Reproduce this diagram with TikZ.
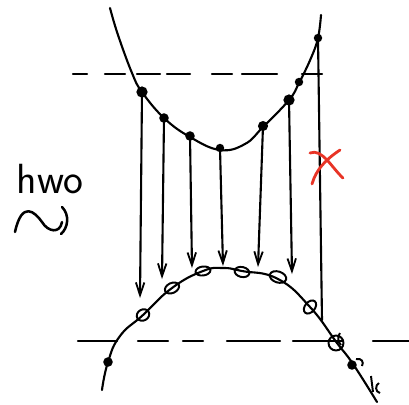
\documentclass[tikz,border=0pt]{standalone}
\usepackage{tikz}
\usetikzlibrary{arrows.meta}

\definecolor{crossred}{RGB}{232,52,38}

\tikzset{
  sketch/.style={line width=1.5pt, line cap=round, line join=round},
  drop/.style={sketch, -{Straight Barb[length=9pt,width=6pt,line width=1.3pt]}},
  loopmark/.style={line width=1.4pt},
}

\begin{document}
\begin{tikzpicture}[x=0.025cm,y=-0.025cm]
  \useasboundingbox (0,0) rectangle (409,404);
  % upper band (valence like curve)
  \draw[sketch] plot[smooth, tension=0.7] coordinates {(110,8) (118,35) (132,73) (142,92) (164,118) (190,137) (220,150) (245,144) (263,127) (289,100) (299,83) (311,58) (318,38) (321,15)};
  % lower band
  \draw[sketch] plot[smooth, tension=0.8] coordinates {(102,390) (108,362) (120,336) (143,315) (172,288) (203,271) (223,268) (242,271) (278,279) (310,307) (337,343) (353,364) (377,402)};
  % dashed levels
  \foreach \a/\b in {73/87, 105/125, 137/160, 167/190, 212/232, 242/277, 302/322}
    \draw[sketch] (\a,74) -- (\b,74);
  \foreach \a/\b in {78/117, 138/168, 183/203, 227/280, 293/343, 373/409}
    \draw[sketch] (\a,341) -- (\b,341);
  % dots on upper curve
  \foreach \n/\x/\y/\r in {1/142/92/4, 2/164/118/3.4, 3/190/136/3.4, 4/220/148/3, 5/263/126/3.6, 6/289/100/4, 7/318/38/3}{
    \coordinate (t\n) at (\x,\y);
    \fill (t\n) circle (\r pt);
  }
  \fill (299,82) circle (3pt);
  % arrow ends above lower curve
  \foreach \n/\x/\y in {1/140/298, 2/162/279, 3/192/268, 4/223/266, 5/258/267, 6/292/274}
    \coordinate (b\n) at (\x,\y);
  \foreach \n in {1,...,6}
    \draw[drop] (t\n) -- (b\n);
  % the forbidden one
  \coordinate (b7) at (322,320);
  \draw[sketch] (t7) -- (b7);
  % open loops on lower curve
  \foreach \x/\y/\rx/\ry/\a in {143/315/6.5/5.5/30, 172/288/7.5/5/25, 203/271/7.5/4.5/8, 242/272/7.5/5/-12, 278/277/8.5/5.5/-18, 310/307/5/7.5/-40, 336/343/7.5/7.5/0}
    \draw[loopmark, rotate around={\a:(\x,\y)}] (\x,\y) ellipse ({\rx*0.71pt} and {\ry*0.71pt});
  \fill (108,362) circle (3.4pt);
  \fill (352,365) circle (3.4pt);
  \draw[loopmark] (356,359) .. controls (362,358) and (364,362) .. (362,366);
  \draw[loopmark] (340,333) .. controls (337,337) and (338,342) .. (341,345);
  \draw[loopmark] (371,376) -- (373,392);
  \draw[loopmark] (379,383) .. controls (375,385) and (375,392) .. (380,393);
  % red cross
  \draw[sketch, crossred, line width=2pt] (310,153) .. controls (322,148) and (332,168) .. (343,178);
  \draw[sketch, crossred, line width=2pt] (340,150) .. controls (325,160) and (316,170) .. (312,184);
  % photon label
  \node (hw) at (50,179) {\fontsize{30}{30}\selectfont\sffamily hwo};
  \draw[sketch, line width=1.8pt] (15,232) .. controls (22,200) and (35,212) .. (42,222)
    .. controls (48,232) and (60,234) .. (62,222);
  \draw[sketch, line width=1.8pt] (62,207) .. controls (70,215) and (68,228) .. (61,234);
\end{tikzpicture}
\end{document}
